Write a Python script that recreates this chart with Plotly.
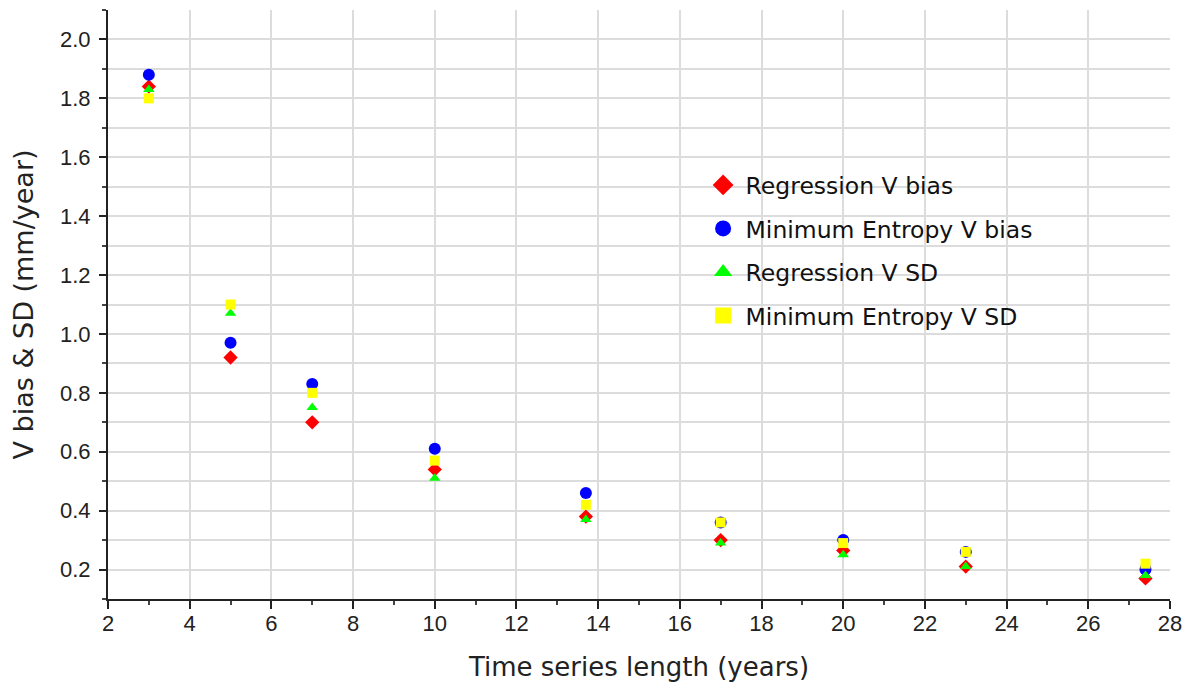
import plotly.graph_objects as go

x_years = [3, 5, 7, 10, 13.7, 17, 20, 23, 27.4]
reg_bias = [1.84, 0.92, 0.70, 0.54, 0.38, 0.30, 0.265, 0.21, 0.17]
me_bias = [1.88, 0.97, 0.83, 0.61, 0.46, 0.36, 0.30, 0.26, 0.20]
reg_sd = [1.83, 1.07, 0.75, 0.51, 0.37, 0.29, 0.25, 0.21, 0.18]
me_sd = [1.80, 1.10, 0.80, 0.57, 0.42, 0.36, 0.29, 0.26, 0.22]

series = [
    ("Regression V bias", reg_bias, "diamond", "#ff0000", 11),
    ("Minimum Entropy V bias", me_bias, "circle", "#0000ff", 12),
    ("Regression V SD", reg_sd, "triangle-up", "#00ff00", 10),
    ("Minimum Entropy V SD", me_sd, "square", "#ffff00", 10),
]

fig = go.Figure()
for i, (name, vals, sym, col, sz) in enumerate(series):
    fig.add_trace(go.Scatter(
        x=x_years, y=vals, mode="markers", name=name, legendgroup=str(i),
        showlegend=False,
        marker=dict(symbol=sym, color=col, size=sz, line=dict(width=0)),
    ))
# legend entries with larger symbols (legend only, no data)
for i, (name, vals, sym, col, sz) in enumerate(series):
    fig.add_trace(go.Scatter(
        x=[None], y=[None], mode="markers", name=name, legendgroup=str(i),
        showlegend=True,
        marker=dict(symbol=sym, color=col, size=22, line=dict(width=0)),
    ))

tick_font = "Liberation Sans, Arial, Helvetica, sans-serif"
label_font = "DejaVu Sans, Liberation Sans, Arial, sans-serif"
fig.update_layout(
    width=1192, height=687,
    margin=dict(l=108, r=18, t=10, b=88),
    paper_bgcolor="white", plot_bgcolor="white",
    font=dict(family=tick_font, color="#222222"),
    legend=dict(
        x=0.558, y=0.74, xanchor="left", yanchor="top",
        bgcolor="rgba(0,0,0,0)",
        font=dict(size=23.5, color="#111111", family=label_font),
        itemsizing="trace", itemwidth=35, traceorder="grouped", tracegroupgap=10,
    ),
    xaxis=dict(
        range=[2, 28], dtick=2, tick0=0,
        showgrid=True, gridcolor="#dcdcdc", gridwidth=1.5,
        showline=True, linecolor="#222222", linewidth=2,
        ticks="outside", ticklen=8, tickwidth=1.5, tickcolor="#222222",
        minor=dict(dtick=1, ticks="outside", ticklen=4, tickcolor="#444444", showgrid=False),
        tickfont=dict(size=22, family=tick_font), zeroline=False,
        ticklabelstandoff=-4,
        title=dict(text="Time series length (years)",
                   font=dict(size=26, family=label_font), standoff=22),
    ),
    yaxis=dict(
        range=[0.1, 2.1], dtick=0.2, tick0=0, tickformat=".1f",
        showgrid=True, gridcolor="#dcdcdc", gridwidth=1.5,
        showline=True, linecolor="#222222", linewidth=2,
        ticks="outside", ticklen=7, tickwidth=1.5, tickcolor="#222222",
        minor=dict(dtick=0.1, tick0=0, ticks="outside", ticklen=4, tickcolor="#444444",
                   showgrid=True, gridcolor="#dcdcdc", gridwidth=1.5),
        tickfont=dict(size=22, family=tick_font), zeroline=False,
        ticklabelstandoff=4,
        title=dict(text="V bias & SD (mm/year)",
                   font=dict(size=27, family=label_font), standoff=19),
    ),
)

fig.write_html("out.html")
